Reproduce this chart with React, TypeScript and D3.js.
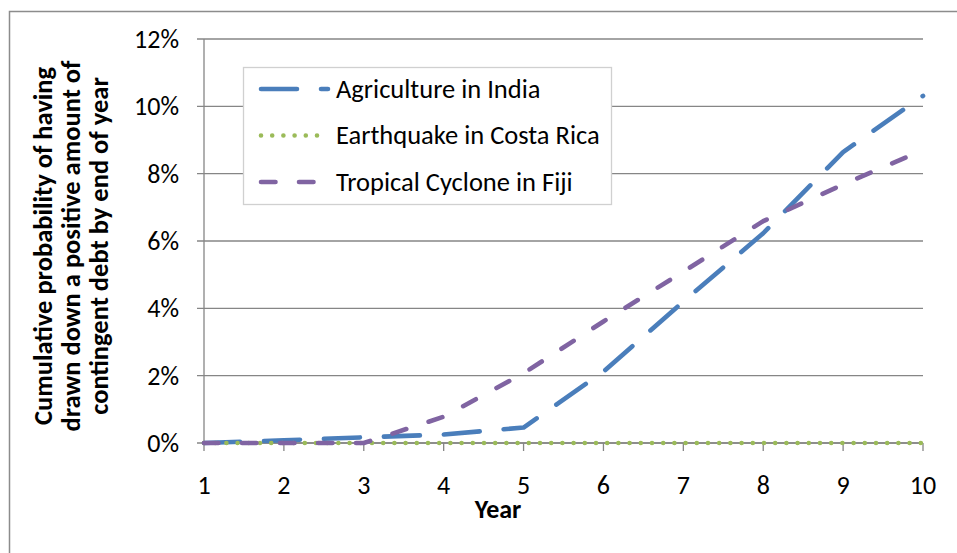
import React from "react";
import * as d3 from "d3";

const years = [1, 2, 3, 4, 5, 6, 7, 8, 9, 10];
const agricultureIndia = [0, 0.0008, 0.0017, 0.0025, 0.0046, 0.0212, 0.042, 0.0623, 0.0864, 0.1031];
const earthquakeCostaRica = [0, 0, 0, 0, 0, 0, 0, 0, 0, 0];
const cycloneFiji = [0, 0, 0, 0.0078, 0.0207, 0.0361, 0.0509, 0.0659, 0.0768, 0.087];
const yTicks = [0, 0.02, 0.04, 0.06, 0.08, 0.1, 0.12];
const yTitleLines = [
  "Cumulative probability of having",
  "drawn down a positive amount of",
  "contingent debt by end of year",
];

const series = [
  { name: "Agriculture in India", values: agricultureIndia, color: "#4a7ebb", dash: "36,24" },
  { name: "Earthquake in Costa Rica", values: earthquakeCostaRica, color: "#9bbb59", dash: "0,11.2" },
  { name: "Tropical Cyclone in Fiji", values: cycloneFiji, color: "#8064a2", dash: "14.5,23.5" },
];

const W = 957;
const H = 553;
const font = "Carlito, Calibri, Lato, sans-serif";

export default function App() {
  const x = d3.scaleLinear().domain([1, 10]).range([204, 923]);
  const y = d3.scaleLinear().domain([0, 0.12]).range([443, 39]);
  const pct = d3.format(".0%");

  const line = d3
    .line<number>()
    .x((_, i) => x(years[i]))
    .y((d) => y(d));

  return (
    <svg
      width={W}
      height={H}
      style={{ position: "absolute", left: 0, top: 0, background: "#fff" }}
      fontFamily={font}
    >
      {/* chart border */}
      <rect x={9.5} y={11.5} width={1000} height={600} fill="none" stroke="#8c8c8c" strokeWidth={1.5} />

      {/* gridlines */}
      {yTicks.map((t) => (
        <line key={t} x1={197} x2={923} y1={y(t)} y2={y(t)} stroke="#868686" strokeWidth={1.3} />
      ))}
      {/* y axis */}
      <line x1={204} x2={204} y1={39} y2={443} stroke="#868686" strokeWidth={1.3} />
      {yTicks.map((t) => (
        <text key={t} x={179} y={y(t) + 9} textAnchor="end" fontSize={26} fill="#000">
          {pct(t)}
        </text>
      ))}
      {/* x axis */}
      <line x1={204} x2={923} y1={443} y2={443} stroke="#868686" strokeWidth={1.3} />
      {years.map((yr) => (
        <g key={yr}>
          <line x1={x(yr)} x2={x(yr)} y1={443} y2={451} stroke="#868686" strokeWidth={1.3} />
          <text x={x(yr)} y={494} textAnchor="middle" fontSize={26} fill="#000">
            {yr}
          </text>
        </g>
      ))}
      <text x={498} y={518} textAnchor="middle" fontSize={26} fontWeight="bold">
        Year
      </text>
      {/* y title */}
      <g transform="translate(0,246) rotate(-90)">
        {yTitleLines.map((l, i) => (
          <text key={i} x={0} y={52 + i * 28} textAnchor="middle" fontSize={26.5} fontWeight="bold">
            {l}
          </text>
        ))}
      </g>

      {/* series */}
      {series.map((s) => (
        <path
          key={s.name}
          d={line(s.values) || ""}
          fill="none"
          stroke={s.color}
          strokeWidth={4.6}
          strokeDasharray={s.dash}
          strokeLinecap="round"
          strokeLinejoin="round"
        />
      ))}

      {/* legend */}
      <rect x={243.5} y={67.5} width={368} height={137} fill="#fff" stroke="#d0d0d0" strokeWidth={1.3} />
      {series.map((s, i) => (
        <g key={s.name} transform={`translate(0,${89 + i * 46.5})`}>
          <line
            x1={261}
            x2={328}
            y1={0}
            y2={0}
            stroke={s.color}
            strokeWidth={4.6}
            strokeDasharray={s.dash}
            strokeLinecap="round"
          />
          <text x={336} y={8.5} fontSize={26.5} fill="#000">
            {s.name}
          </text>
        </g>
      ))}
    </svg>
  );
}
